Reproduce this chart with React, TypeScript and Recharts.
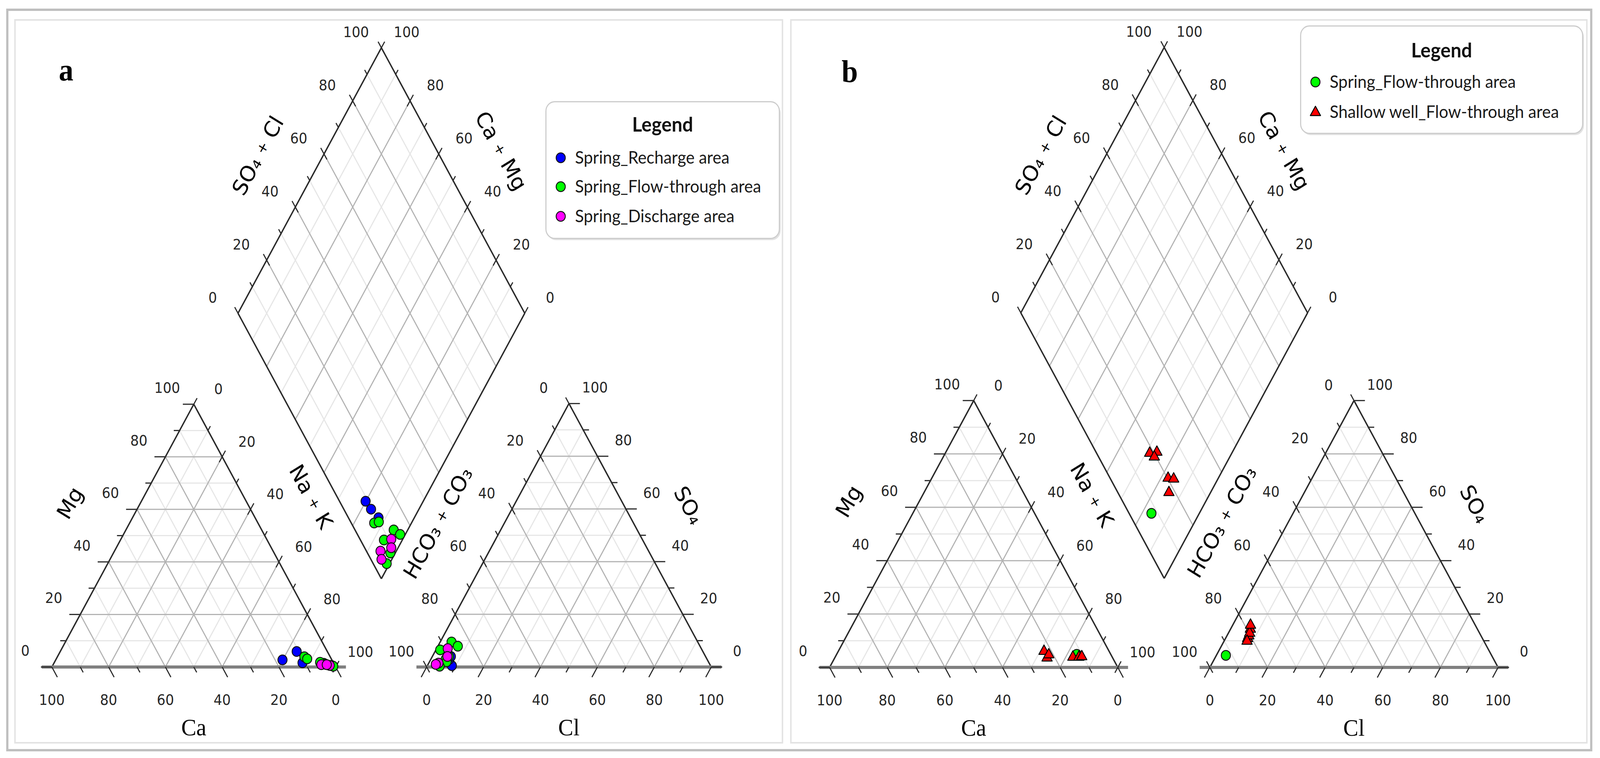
import React from "react";
import { ScatterChart, Scatter, XAxis, YAxis, ReferenceLine, Legend } from "recharts";

// ---------------- data (meq %) ----------------
type Sample = { Ca: number; Mg: number; NaK: number; HCO3: number; SO4: number; Cl: number };

const springRechargeA: Sample[] = [
  { Ca: 17.4, Mg: 2.7, NaK: 79.9, HCO3: 90.9, SO4: 0.5, Cl: 8.6 },
  { Ca: 10.8, Mg: 5.9, NaK: 83.3, HCO3: 90.5, SO4: 3.0, Cl: 6.5 },
  { Ca: 10.9, Mg: 1.6, NaK: 87.5, HCO3: 89.5, SO4: 4.0, Cl: 6.5 },
];
const springFlowA: Sample[] = [
  { Ca: 9.1, Mg: 3.9, NaK: 87.0, HCO3: 92.0, SO4: 6.5, Cl: 1.5 },
  { Ca: 8.5, Mg: 3.1, NaK: 88.4, HCO3: 90.2, SO4: 4.0, Cl: 5.8 },
  { Ca: 3.5, Mg: 1.4, NaK: 95.1, HCO3: 86.5, SO4: 9.5, Cl: 4.0 },
  { Ca: 1.2, Mg: 0.6, NaK: 98.2, HCO3: 85.1, SO4: 7.9, Cl: 7.0 },
  { Ca: 4.6, Mg: 1.8, NaK: 93.6, HCO3: 91.8, SO4: 3.0, Cl: 5.2 },
  { Ca: 1.2, Mg: 0.5, NaK: 98.3, HCO3: 92.0, SO4: 2.0, Cl: 6.0 },
  { Ca: 0.7, Mg: 0.3, NaK: 99.0, HCO3: 95.3, SO4: 0.3, Cl: 4.4 },
];
const springDischargeA: Sample[] = [
  { Ca: 3.0, Mg: 1.0, NaK: 96.0, HCO3: 89.1, SO4: 7.0, Cl: 3.9 },
  { Ca: 1.8, Mg: 0.6, NaK: 97.6, HCO3: 90.7, SO4: 4.0, Cl: 5.3 },
  { Ca: 4.6, Mg: 0.9, NaK: 94.5, HCO3: 95.1, SO4: 1.5, Cl: 3.4 },
  { Ca: 2.7, Mg: 0.9, NaK: 96.4, HCO3: 96.3, SO4: 1.0, Cl: 2.7 },
];
const springFlowB: Sample[] = [
  { Ca: 11.8, Mg: 4.9, NaK: 83.3, HCO3: 92.2, SO4: 4.5, Cl: 3.3 },
];
const shallowWellB: Sample[] = [
  { Ca: 22.5, Mg: 6.2, NaK: 71.3, HCO3: 81.4, SO4: 11.0, Cl: 7.6 },
  { Ca: 22.7, Mg: 3.7, NaK: 73.6, HCO3: 78.7, SO4: 14.5, Cl: 6.8 },
  { Ca: 21.5, Mg: 4.9, NaK: 73.6, HCO3: 80.5, SO4: 12.0, Cl: 7.5 },
  { Ca: 13.6, Mg: 4.0, NaK: 82.4, HCO3: 79.7, SO4: 13.0, Cl: 7.3 },
  { Ca: 11.5, Mg: 4.0, NaK: 84.5, HCO3: 77.9, SO4: 16.0, Cl: 6.1 },
  { Ca: 10.4, Mg: 4.2, NaK: 85.4, HCO3: 82.1, SO4: 10.0, Cl: 7.9 },
];

const GRID_STEPS = [10, 20, 30, 40, 50, 60, 70, 80, 90];
const TICK_STEPS = [0, 10, 20, 30, 40, 50, 60, 70, 80, 90, 100];
const AXIS_LABELS = [0, 20, 40, 60, 80, 100];

type SeriesCfg = { name: string; color: string; marker: "circle" | "triangle"; data: Sample[] };
const seriesA: SeriesCfg[] = [
  { name: "Spring_Recharge area", color: "#0000ff", marker: "circle", data: springRechargeA },
  { name: "Spring_Flow-through area", color: "#00ff00", marker: "circle", data: springFlowA },
  { name: "Spring_Discharge area", color: "#ff00ff", marker: "circle", data: springDischargeA },
];
const seriesB: SeriesCfg[] = [
  { name: "Spring_Flow-through area", color: "#00ff00", marker: "circle", data: springFlowB },
  { name: "Shallow well_Flow-through area", color: "#ff0000", marker: "triangle", data: shallowWellB },
];

// ---------------- layout ----------------
const PAGE_W = 4380;
const PAGE_H = 1941;
const SQ = Math.sqrt(3) / 2;

if (typeof document !== "undefined") {
  document.documentElement.style.overflow = "hidden";
  document.body.style.overflow = "hidden";
  document.body.style.margin = "0";
}

type Pt = { x: number; y: number };
type Tri = { x0: number; y0: number; L: number };
type Dia = { bx: number; by: number; L: number };
type LegendCfg = { left: number; top: number; width: number; height: number; titleY: number; rows: number[] };
type Panel = {
  letter: string; left: number; width: number; cat: Tri; an: Tri; dia: Dia;
  letterPos: Pt; legend: LegendCfg; series: SeriesCfg[];
};

const panels: Panel[] = [
  {
    letter: "a", left: 0, width: 2154,
    cat: { x0: 142, y0: 1708, L: 777 },
    an: { x0: 1168, y0: 1708, L: 779 },
    dia: { bx: 1044, by: 1482, L: 785 },
    letterPos: { x: 161, y: 206 },
    legend: { left: 1493, top: 259, width: 642, height: 353, titleY: 78, rows: [145, 219, 295] },
    series: seriesA,
  },
  {
    letter: "b", left: 2154, width: 2226,
    cat: { x0: 2271, y0: 1709, L: 789 },
    an: { x0: 3312, y0: 1709, L: 789 },
    dia: { bx: 3187, by: 1481, L: 785 },
    letterPos: { x: 2304, y: 210 },
    legend: { left: 3559, top: 65, width: 775, height: 278, titleY: 82, rows: [145, 222] },
    series: seriesB,
  },
];

function triPt(t: Tri, left: number, apex: number, right: number): Pt {
  return { x: t.x0 + (t.L * (right + apex / 2)) / 100, y: t.y0 - (t.L * SQ * apex) / 100 };
}
function diaPt(d: Dia, cam: number, socl: number): Pt {
  return { x: d.bx + ((d.L / 2) * (socl - cam)) / 100, y: d.by - (d.L * SQ * (cam + socl)) / 100 };
}

type SegKind = "minor" | "major" | "side" | "base" | "tick";
type Seg = { a: Pt; b: Pt; kind: SegKind };
const SEG_STYLE: Record<SegKind, { stroke: string; w: number }> = {
  minor: { stroke: "#e6e6e6", w: 3 },
  major: { stroke: "#b3b3b3", w: 3 },
  side: { stroke: "#2b2b2b", w: 3.8 },
  base: { stroke: "#808080", w: 8 },
  tick: { stroke: "#2b2b2b", w: 3 },
};

const DIR_DR: [number, number] = [0.5, SQ];
const DIR_DL: [number, number] = [-0.5, SQ];
const DIR_UR: [number, number] = [0.5, -SQ];
const DIR_UL: [number, number] = [-0.5, -SQ];
const DIR_L: [number, number] = [-1, 0];
const DIR_R: [number, number] = [1, 0];
const N_L: [number, number] = [-SQ, -0.5];
const N_R: [number, number] = [SQ, -0.5];
const DOWN: [number, number] = [0, 1];

function tick(p: Pt, dir: [number, number], major: boolean, cross: boolean): Seg {
  const len = cross ? (major ? 18 : 13) : major ? 30 : 16;
  const back = cross && major ? 16 : 0;
  return {
    a: { x: p.x - dir[0] * back, y: p.y - dir[1] * back },
    b: { x: p.x + dir[0] * len, y: p.y + dir[1] * len },
    kind: "tick",
  };
}

function buildSegments(P: Panel): Seg[] {
  const grid: Seg[] = [];
  const sides: Seg[] = [];
  const ticks: Seg[] = [];
  for (const t of [P.cat, P.an]) {
    for (const k of GRID_STEPS) {
      const kind: SegKind = k % 20 === 0 ? "major" : "minor";
      grid.push({ a: triPt(t, 100 - k, k, 0), b: triPt(t, 0, k, 100 - k), kind });
      grid.push({ a: triPt(t, k, 100 - k, 0), b: triPt(t, k, 0, 100 - k), kind });
      grid.push({ a: triPt(t, 100 - k, 0, k), b: triPt(t, 0, 100 - k, k), kind });
    }
    sides.push({ a: triPt(t, 100, 0, 0), b: triPt(t, 0, 100, 0), kind: "side" });
    sides.push({ a: triPt(t, 0, 100, 0), b: triPt(t, 0, 0, 100), kind: "side" });
    sides.push({ a: { x: t.x0 - 28, y: t.y0 }, b: { x: t.x0 + t.L + 28, y: t.y0 }, kind: "base" });
  }
  for (const k of GRID_STEPS) {
    const kind: SegKind = k % 20 === 0 ? "major" : "minor";
    grid.push({ a: diaPt(P.dia, k, 0), b: diaPt(P.dia, k, 100), kind });
    grid.push({ a: diaPt(P.dia, 0, k), b: diaPt(P.dia, 100, k), kind });
  }
  sides.push({ a: diaPt(P.dia, 0, 0), b: diaPt(P.dia, 100, 0), kind: "side" });
  sides.push({ a: diaPt(P.dia, 100, 0), b: diaPt(P.dia, 100, 100), kind: "side" });
  sides.push({ a: diaPt(P.dia, 100, 100), b: diaPt(P.dia, 0, 100), kind: "side" });
  sides.push({ a: diaPt(P.dia, 0, 100), b: diaPt(P.dia, 0, 0), kind: "side" });

  for (const k of TICK_STEPS) {
    const m = k % 20 === 0;
    ticks.push(tick(triPt(P.cat, k, 0, 100 - k), DIR_DR, m, false));
    ticks.push(tick(triPt(P.cat, 100 - k, k, 0), DIR_L, m, false));
    ticks.push(tick(triPt(P.cat, 0, 100 - k, k), DIR_UR, m, true));
    ticks.push(tick(triPt(P.an, 100 - k, 0, k), DIR_DL, m, false));
    ticks.push(tick(triPt(P.an, 0, k, 100 - k), DIR_R, m, false));
    ticks.push(tick(triPt(P.an, k, 100 - k, 0), DIR_UL, m, true));
    ticks.push(tick(diaPt(P.dia, 100, k), DIR_UL, m, true));
    ticks.push(tick(diaPt(P.dia, k, 100), DIR_UR, m, true));
  }
  const minor = grid.filter((s) => s.kind === "minor");
  const major = grid.filter((s) => s.kind === "major");
  return [...minor, ...major, ...sides, ...ticks];
}

type LabelKind = "tick" | "title" | "serif" | "letter";
type Label = { x: number; y: number; text: string; kind: LabelKind; rot?: number };

const off = (p: Pt, n: [number, number], d: number): Pt => ({ x: p.x + n[0] * d, y: p.y + n[1] * d });

function buildLabels(P: Panel): Label[] {
  const out: Label[] = [];
  for (const v of AXIS_LABELS) {
    const t = String(v);
    out.push({ ...off(triPt(P.cat, v, 0, 100 - v), DOWN, 84), text: t, kind: "tick" });
    out.push({ ...off(triPt(P.cat, 100 - v, v, 0), N_L, 84), text: t, kind: "tick" });
    out.push({ ...off(triPt(P.cat, 0, 100 - v, v), N_R, 78), text: t, kind: "tick" });
    out.push({ ...off(triPt(P.an, 100 - v, 0, v), DOWN, 84), text: t, kind: "tick" });
    out.push({ ...off(triPt(P.an, v, 100 - v, 0), N_L, 80), text: t, kind: "tick" });
    out.push({ ...off(triPt(P.an, 0, v, 100 - v), N_R, 82), text: t, kind: "tick" });
    out.push({ ...off(diaPt(P.dia, 100, v), N_L, 80), text: t, kind: "tick" });
    out.push({ ...off(diaPt(P.dia, v, 100), N_R, 80), text: t, kind: "tick" });
  }
  out.push({ ...off(triPt(P.cat, 50, 50, 0), N_L, 167), text: "Mg", kind: "title", rot: -60 });
  out.push({ ...off(triPt(P.cat, 0, 53, 47), N_R, 160), text: "Na + K", kind: "title", rot: 60 });
  out.push({ ...off(triPt(P.cat, 50, 0, 50), DOWN, 154), text: "Ca", kind: "serif" });
  out.push({ ...off(diaPt(P.dia, 100, 48), N_L, 155), text: "SO\u2084 + Cl", kind: "title", rot: -60 });
  out.push({ ...off(diaPt(P.dia, 50, 100), N_R, 152), text: "Ca + Mg", kind: "title", rot: 60 });
  out.push({ ...off(triPt(P.an, 57, 43, 0), N_L, 158), text: "HCO\u2083 + CO\u2083", kind: "title", rot: -60 });
  out.push({ ...off(triPt(P.an, 0, 50, 50), N_R, 153), text: "SO\u2084", kind: "title", rot: 60 });
  out.push({ ...off(triPt(P.an, 50, 0, 50), DOWN, 154), text: "Cl", kind: "serif" });
  out.push({ ...P.letterPos, text: P.letter, kind: "letter" });
  return out;
}

const LABEL_STYLE: Record<LabelKind, any> = {
  tick: { family: "'DejaVu Sans', Verdana, sans-serif", size: 37, weight: 400, fill: "#262626", anchor: "middle", baseline: "central" },
  title: { family: "'DejaVu Sans', Verdana, sans-serif", size: 56, weight: 400, fill: "#000", anchor: "middle", baseline: "central" },
  serif: { family: "'Liberation Serif', 'Times New Roman', serif", size: 62, weight: 400, fill: "#000", anchor: "middle", baseline: "central" },
  letter: { family: "'Liberation Serif', 'Times New Roman', serif", size: 80, weight: 700, fill: "#000", anchor: "start", baseline: "alphabetic" },
};

const renderLabel = (props: any) => {
  const { cx, cy, payload } = props;
  if (cx == null || cy == null || !payload) return <g />;
  const st = LABEL_STYLE[payload.kind as LabelKind];
  const parts: string[] = payload.text.split("+");
  return (
    <text
      x={cx}
      y={cy}
      transform={payload.rot ? `rotate(${payload.rot} ${cx} ${cy})` : undefined}
      textAnchor={st.anchor}
      dominantBaseline={st.baseline}
      fontFamily={st.family}
      fontSize={st.size}
      fontWeight={st.weight}
      fill={st.fill}
    >
      {parts.length === 1
        ? payload.text
        : parts.map((p, i) => (
            <React.Fragment key={i}>
              {i > 0 && <tspan fontSize={st.size * 0.65}>+</tspan>}
              <tspan>{p}</tspan>
            </React.Fragment>
          ))}
    </text>
  );
};

function Marker({ kind, cx, cy, fill }: { kind: "circle" | "triangle"; cx: number; cy: number; fill: string }) {
  if (kind === "triangle") {
    return (
      <polygon
        points={`${cx},${cy - 15} ${cx - 14},${cy + 9} ${cx + 14},${cy + 9}`}
        fill={fill}
        stroke="#000"
        strokeWidth={2.5}
        strokeLinejoin="round"
      />
    );
  }
  return <circle cx={cx} cy={cy} r={12.5} fill={fill} stroke="#111" strokeWidth={2.5} />;
}

function samplePoints(P: Panel, data: Sample[]): Pt[] {
  const pts: Pt[] = [];
  for (const s of data) {
    pts.push(triPt(P.cat, s.Ca, s.Mg, s.NaK));
    pts.push(triPt(P.an, s.HCO3, s.SO4, s.Cl));
    pts.push(diaPt(P.dia, s.Ca + s.Mg, s.SO4 + s.Cl));
  }
  return pts;
}

function LegendBox({ cfg, series }: { cfg: LegendCfg; series: SeriesCfg[] }) {
  const { width: w, height: h, titleY, rows } = cfg;
  return (
    <svg width={w + 8} height={h + 8} style={{ display: "block", overflow: "visible" }}>
      <rect x={5} y={6} width={w - 3} height={h - 3} rx={24} fill="#e2e2e2" />
      <rect x={1.5} y={1.5} width={w - 3} height={h - 3} rx={24} fill="#fff" stroke="#cccccc" strokeWidth={3} />
      <text x={w / 2} y={titleY} textAnchor="middle" fontFamily="Lato, sans-serif" fontWeight={700} fontSize={52} fill="#111">
        Legend
      </text>
      {series.map((s, i) => (
        <g key={s.name}>
          <Marker kind={s.marker} cx={42} cy={rows[i]} fill={s.color} />
          <text x={81} y={rows[i] + 15} fontFamily="Lato, sans-serif" fontSize={45} fill="#1a1a1a">
            {s.name}
          </text>
        </g>
      ))}
    </svg>
  );
}

function PanelChart({ P }: { P: Panel }) {
  const segs = buildSegments(P);
  const labels = buildLabels(P);
  return (
    <div style={{ position: "absolute", left: P.left, top: 0, width: P.width, height: PAGE_H }}>
      <ScatterChart width={P.width} height={PAGE_H} margin={{ top: 0, right: 0, bottom: 0, left: 0 }}>
        <XAxis type="number" dataKey="x" domain={[P.left, P.left + P.width]} hide allowDataOverflow />
        <YAxis type="number" dataKey="y" domain={[0, PAGE_H]} reversed hide allowDataOverflow />
        {segs.map((s, i) => (
          <ReferenceLine
            key={i}
            segment={[{ x: s.a.x, y: s.a.y }, { x: s.b.x, y: s.b.y }]}
            stroke={SEG_STYLE[s.kind].stroke}
            strokeWidth={SEG_STYLE[s.kind].w}
            ifOverflow="visible"
          />
        ))}
        <Scatter name="labels" data={labels} shape={renderLabel} legendType="none" isAnimationActive={false} />
        {P.series.map((s) => (
          <Scatter
            key={s.name}
            name={s.name}
            data={samplePoints(P, s.data)}
            fill={s.color}
            legendType={s.marker}
            isAnimationActive={false}
            shape={(p: any) => <Marker kind={s.marker} cx={p.cx} cy={p.cy} fill={s.color} />}
          />
        ))}
        <Legend
          layout="horizontal"
          verticalAlign="middle"
          align="center"
          width={P.legend.width + 8}
          height={P.legend.height + 8}
          wrapperStyle={{
            position: "absolute",
            left: P.legend.left - P.left,
            top: P.legend.top,
            width: P.legend.width + 8,
            height: P.legend.height + 8,
          }}
          content={() => <LegendBox cfg={P.legend} series={P.series} />}
        />
      </ScatterChart>
    </div>
  );
}

export default function App() {
  // The browser may clamp the viewport (e.g. to 4096 px wide); fit the 4380x1941 figure to it.
  const vw = typeof window !== "undefined" && window.innerWidth ? window.innerWidth : PAGE_W;
  const vh = typeof window !== "undefined" && window.innerHeight ? window.innerHeight : PAGE_H;
  const sx = vw / PAGE_W;
  const sy = vh / PAGE_H;
  return (
    <div style={{ position: "fixed", left: 0, top: 0, width: vw, height: vh, overflow: "hidden", background: "#fff" }}>
      <div
        style={{
          position: "absolute", left: 0, top: 0, width: PAGE_W, height: PAGE_H,
          transform: `scale(${sx}, ${sy})`, transformOrigin: "0 0", background: "#fff",
        }}
      >
        <div style={{ position: "absolute", left: 17, top: 22, width: 4342, height: 1902, border: "6px solid #bfbfbf", boxSizing: "border-box" }} />
        <div style={{ position: "absolute", left: 39, top: 49, width: 2105, height: 1855, border: "4px solid #e3e3e3", boxSizing: "border-box" }} />
        <div style={{ position: "absolute", left: 2163, top: 49, width: 2183, height: 1855, border: "4px solid #e3e3e3", boxSizing: "border-box" }} />
        {panels.map((P) => (
          <PanelChart key={P.letter} P={P} />
        ))}
      </div>
    </div>
  );
}
